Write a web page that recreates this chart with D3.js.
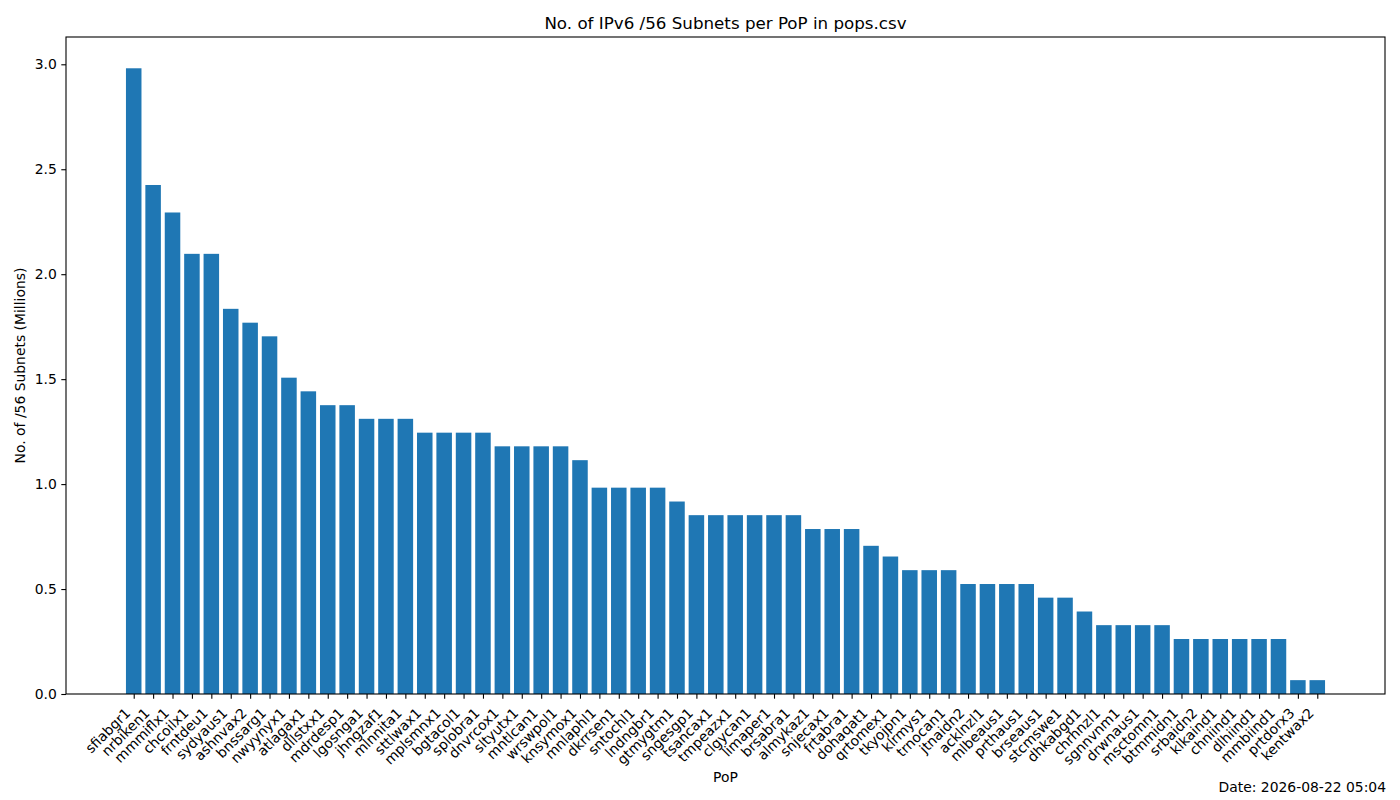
<!DOCTYPE html>
<html>
<head>
<meta charset="utf-8">
<script src="https://cdn.jsdelivr.net/npm/d3@7"></script>
<style>
  body { margin: 0; background: #fff; }
  svg text { font-family: "DejaVu Sans", sans-serif; }
</style>
</head>
<body>
<div id="chart"></div>
<script>
// PoP names, sorted by subnet count
var pops = ["sfiabgr1", "nrbiken1", "mmmiflx1", "chcoilx1", "frntdeu1", "sydyaus1", "ashnvax2", "bnssarg1",
  "nwyynyx1", "atlagax1", "dllstxx1", "mdrdesp1", "lgosnga1", "jhngzaf1", "mlnnita1", "sttlwax1",
  "mplsmnx1", "bgtacol1", "splobra1", "dnvrcox1", "sltyutx1", "mntlcan1", "wrswpol1", "knsymox1",
  "mnlaphl1", "dkrrsen1", "sntochl1", "lndngbr1", "gtmygtm1", "sngesgp1", "tsancax1", "tmpeazx1",
  "clgycan1", "limaper1", "brsabra1", "almykaz1", "snjecax1", "frtabra1", "dohaqat1", "qrtomex1",
  "tkyojpn1", "klrmys1", "trnocan1", "jtnaidn2", "acklnzl1", "mlbeaus1", "prthaus1", "brseaus1",
  "stcmswe1", "dhkabgd1", "chrhnzl1", "sgnnvnm1", "drwnaus1", "msctomn1", "btmmidn1", "srbaidn2",
  "klkaind1", "chniind1", "dlhiind1", "mmbiind1", "prtdorx3", "kentwax2"];

// /56 subnets in millions
var subnets = [2.981, 2.425, 2.294, 2.097, 2.097, 1.835, 1.769, 1.704,
  1.507, 1.442, 1.376, 1.376, 1.311, 1.311, 1.311, 1.245,
  1.245, 1.245, 1.245, 1.180, 1.180, 1.180, 1.180, 1.114,
  0.983, 0.983, 0.983, 0.983, 0.917, 0.852, 0.852, 0.852,
  0.852, 0.852, 0.852, 0.786, 0.786, 0.786, 0.706, 0.655,
  0.590, 0.590, 0.590, 0.524, 0.524, 0.524, 0.524, 0.459,
  0.459, 0.393, 0.328, 0.328, 0.328, 0.328, 0.262, 0.262,
  0.262, 0.262, 0.262, 0.262, 0.066, 0.066];

var yTicks = [0, 0.5, 1.0, 1.5, 2.0, 2.5, 3.0];

var W = 1400, H = 800;
var margin = {left: 66, right: 15, top: 37, bottom: 106};
var iw = W - margin.left - margin.right;
var ih = H - margin.top - margin.bottom;

var svg = d3.select("#chart").append("svg")
    .attr("width", W)
    .attr("height", H);

var g = svg.append("g")
    .attr("transform", "translate(" + margin.left + "," + margin.top + ")");

// matplotlib style: bars of width 0.8 and 5% margins
var n = pops.length;
var pad = (n - 1 + 0.8) * 0.05;
var x = d3.scaleLinear()
    .domain([-0.4 - pad, n - 1 + 0.4 + pad])
    .range([0, iw]);
var y = d3.scaleLinear()
    .domain([0, d3.max(subnets) * 1.05])
    .range([ih, 0]);

g.selectAll("rect.bar")
    .data(subnets)
    .enter()
    .append("rect")
    .attr("class", "bar")
    .attr("x", function(d, i) { return x(i - 0.4); })
    .attr("width", x(0.8) - x(0))
    .attr("y", function(d) { return y(d); })
    .attr("height", function(d) { return y(0) - y(d); })
    .attr("fill", "#1f77b4");

// y axis
var yAxis = g.append("g")
    .call(d3.axisLeft(y).tickValues(yTicks).tickFormat(d3.format(".1f")).tickSize(4.7).tickPadding(4.5));
yAxis.select(".domain").remove();
yAxis.selectAll("text").attr("font-size", "13.9px").attr("fill", "#000");
yAxis.selectAll("line").attr("stroke", "#000").attr("stroke-width", 1.1);

// x axis
var xAxis = g.append("g")
    .attr("transform", "translate(0," + ih + ")")
    .call(d3.axisBottom(x).tickValues(d3.range(n)).tickFormat(function(i) { return pops[i]; }).tickSize(4.7));
xAxis.select(".domain").remove();
xAxis.selectAll("line").attr("stroke", "#000").attr("stroke-width", 1.1);
xAxis.selectAll("text")
    .attr("font-size", "13.9px")
    .attr("fill", "#000")
    .attr("text-anchor", "end")
    .attr("dy", null)
    .attr("y", null)
    .attr("transform", "translate(-3,20) rotate(-45)");

// frame
g.append("rect")
    .attr("width", iw)
    .attr("height", ih)
    .attr("fill", "none")
    .attr("stroke", "#000")
    .attr("stroke-width", 1.1);

svg.append("text")
    .attr("x", margin.left + iw / 2)
    .attr("y", 29)
    .attr("text-anchor", "middle")
    .attr("font-size", "16.7px")
    .text("No. of IPv6 /56 Subnets per PoP in pops.csv");

svg.append("text")
    .attr("x", margin.left + iw / 2)
    .attr("y", 782)
    .attr("text-anchor", "middle")
    .attr("font-size", "13.9px")
    .text("PoP");

svg.append("text")
    .attr("transform", "translate(25," + (margin.top + ih / 2) + ") rotate(-90)")
    .attr("text-anchor", "middle")
    .attr("font-size", "13.9px")
    .text("No. of /56 Subnets (Millions)");

svg.append("text")
    .attr("x", 1386)
    .attr("y", 792)
    .attr("text-anchor", "end")
    .attr("font-size", "13.9px")
    .text("Date: 2026-08-22 05:04");
</script>
</body>
</html>
